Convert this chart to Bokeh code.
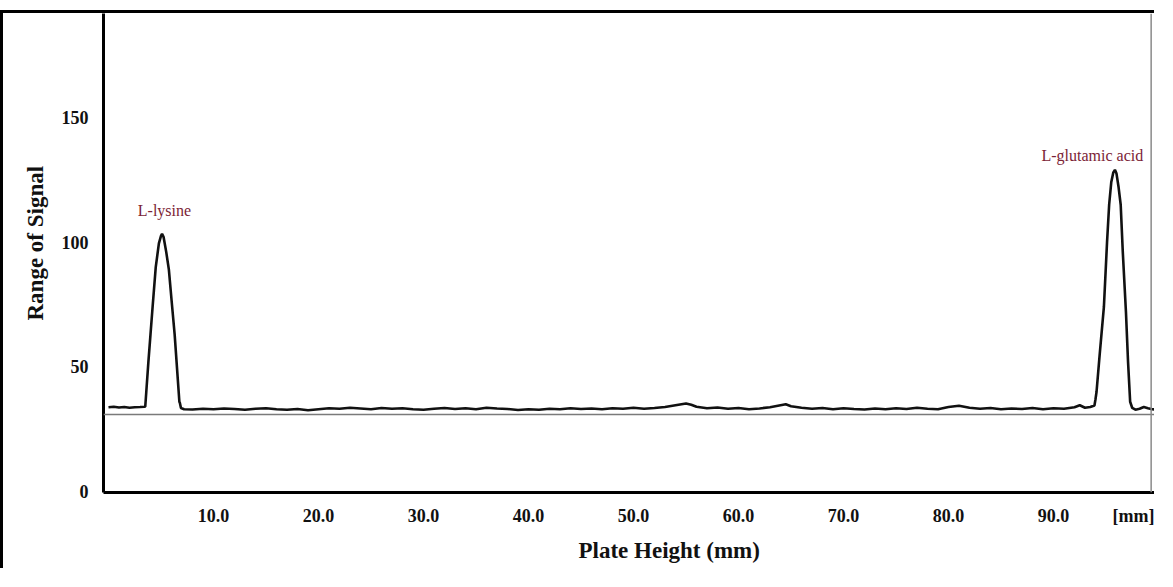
from bokeh.plotting import figure
from bokeh.models import Span, Label, FixedTicker, Title
from bokeh.embed import file_html
from bokeh.resources import INLINE

# ---- data ----
trace_x = [0.0, 0.5, 1.0, 1.5, 2.0, 2.5, 3.0, 3.4,
           3.5, 3.6, 3.8, 4.0, 4.2, 4.5, 4.8, 5.0, 5.1, 5.25, 5.5, 5.75, 6.0, 6.3, 6.55, 6.75, 6.8, 6.9,
           7.2, 8.0, 9.0, 10.0, 11.0, 12.0, 13.0, 14.0, 15.0, 16.0, 17.0, 18.0, 19.0, 20.0,
           21.0, 22.0, 23.0, 24.0, 25.0, 26.0, 27.0, 28.0, 29.0, 30.0,
           31.0, 32.0, 33.0, 34.0, 35.0, 36.0, 37.0, 38.0, 39.0, 40.0,
           41.0, 42.0, 43.0, 44.0, 45.0, 46.0, 47.0, 48.0, 49.0, 50.0,
           51.0, 52.0, 53.0, 54.0, 55.0, 55.5, 56.0, 57.0, 58.0, 59.0, 60.0,
           61.0, 62.0, 63.0, 64.0, 64.5, 65.0, 66.0, 67.0, 68.0, 69.0, 70.0,
           71.0, 72.0, 73.0, 74.0, 75.0, 76.0, 77.0, 78.0, 79.0, 80.0,
           81.0, 82.0, 83.0, 84.0, 85.0, 86.0, 87.0, 88.0, 89.0, 90.0,
           91.0, 92.0, 92.5, 93.0, 93.5, 93.9,
           94.0, 94.1, 94.4, 94.8, 95.1, 95.3, 95.5, 95.7, 95.85, 96.0, 96.2, 96.4, 96.6, 96.9, 97.1, 97.3, 97.5,
           97.8, 98.2, 98.6, 99.0, 99.4, 99.8]
trace_y = [33.8, 34.0, 33.7, 33.9, 33.6, 33.8, 33.9, 34.0,
           34.0, 40.0, 52.0, 63.0, 74.0, 90.0, 99.5, 102.5, 103.3, 102.0, 96.0, 89.0, 77.0, 63.0, 48.0, 36.0, 35.5, 33.5,
           33.0, 32.9, 33.2, 33.0, 33.3, 33.1, 32.8, 33.2, 33.4, 33.0, 32.8, 33.1, 32.6, 33.0,
           33.4, 33.2, 33.6, 33.3, 33.0, 33.5, 33.2, 33.4, 33.0, 32.8,
           33.2, 33.5, 33.1, 33.4, 33.0, 33.6, 33.3, 33.1, 32.7, 33.0,
           32.8, 33.2, 33.0, 33.4, 33.1, 33.3, 33.0, 33.4, 33.2, 33.6,
           33.2, 33.5, 33.9, 34.6, 35.3, 34.8, 34.0, 33.4, 33.7, 33.2, 33.5,
           33.0, 33.3, 33.8, 34.6, 35.0, 34.2, 33.6, 33.2, 33.5, 33.0, 33.4,
           33.1, 32.9, 33.3, 33.0, 33.4, 33.1, 33.6, 33.2, 33.0, 33.9,
           34.4, 33.6, 33.2, 33.5, 33.0, 33.3, 33.1, 33.5, 33.0, 33.4,
           33.2, 33.8, 34.6, 33.6, 33.9, 34.5,
           37.0, 40.0, 55.0, 74.0, 100.0, 115.0, 124.0, 128.0, 129.0, 127.5, 122.0, 115.0, 96.0, 72.0, 52.0, 36.0, 33.5,
           32.8, 33.2, 33.9, 33.4, 33.0, 32.9]

y_ticks = [0, 50, 100, 150]
x_ticks = [10, 20, 30, 40, 50, 60, 70, 80, 90]
x_tick_labels = ["10.0", "20.0", "30.0", "40.0", "50.0", "60.0", "70.0", "80.0", "90.0"]
unit_tick = 98.0
unit_label = "[mm]"
baseline_level = 30.9
end_line_x = 99.3

peak_labels = ["L-lysine", "L-glutamic acid"]
peak_label_x = [5.33, 93.7]
peak_label_y = [112.7, 134.8]

SERIF = "Liberation Serif"
RED = "#7B2335"

p = figure(width=1154, height=558, output_backend="svg", toolbar_location=None,
           x_range=(-0.476, 99.905), y_range=(-0.4, 191.7),
           min_border_left=100, min_border_right=0, min_border_top=0, min_border_bottom=79)
p.styles = {"border-top": "3px solid black", "border-left": "3px solid black", "margin-top": "10px"}
p.outline_line_color = None
p.xgrid.visible = False
p.ygrid.visible = False
p.background_fill_color = "white"
p.border_fill_color = "white"

# axes
for ax in (p.xaxis[0], p.yaxis[0]):
    ax.axis_line_color = "black"
    ax.axis_line_width = 3
    ax.major_tick_line_color = None
    ax.minor_tick_line_color = None
    ax.major_tick_out = 0
    ax.major_tick_in = 0
    ax.major_label_text_font = SERIF
    ax.major_label_text_font_style = "bold"
    ax.major_label_text_font_size = "18px"
    ax.major_label_text_color = "#111111"

p.yaxis[0].ticker = FixedTicker(ticks=y_ticks)
p.yaxis[0].major_label_standoff = 15
p.xaxis[0].ticker = FixedTicker(ticks=x_ticks + [unit_tick])
overrides = {t: s for t, s in zip(x_ticks, x_tick_labels)}
overrides[unit_tick] = unit_label
p.xaxis[0].major_label_overrides = overrides
p.xaxis[0].major_label_standoff = 13

# axis titles
p.add_layout(Title(text="Plate Height (mm)", align="left", offset=475, standoff=15,
                   text_font=SERIF, text_font_style="bold", text_font_size="23px",
                   text_color="#111111"), "below")
p.add_layout(Title(text="Range of Signal", align="left", offset=172, standoff=21,
                   text_font=SERIF, text_font_style="bold", text_font_size="23px",
                   text_color="#111111"), "left")

# reference lines
p.add_layout(Span(location=baseline_level, dimension="width", line_color="#7a7a7a", line_width=1.5))
p.add_layout(Span(location=end_line_x, dimension="height", line_color="#8a8a8a", line_width=1.5))

# trace
p.line(trace_x, trace_y, line_color="#111111", line_width=2.6)

# peak labels
for t, lx, ly in zip(peak_labels, peak_label_x, peak_label_y):
    p.add_layout(Label(x=lx, y=ly, text=t, text_align="center", text_baseline="middle",
                       text_font=SERIF, text_font_size="16px", text_color=RED))

open("out.html", "w").write(file_html(p, INLINE))
